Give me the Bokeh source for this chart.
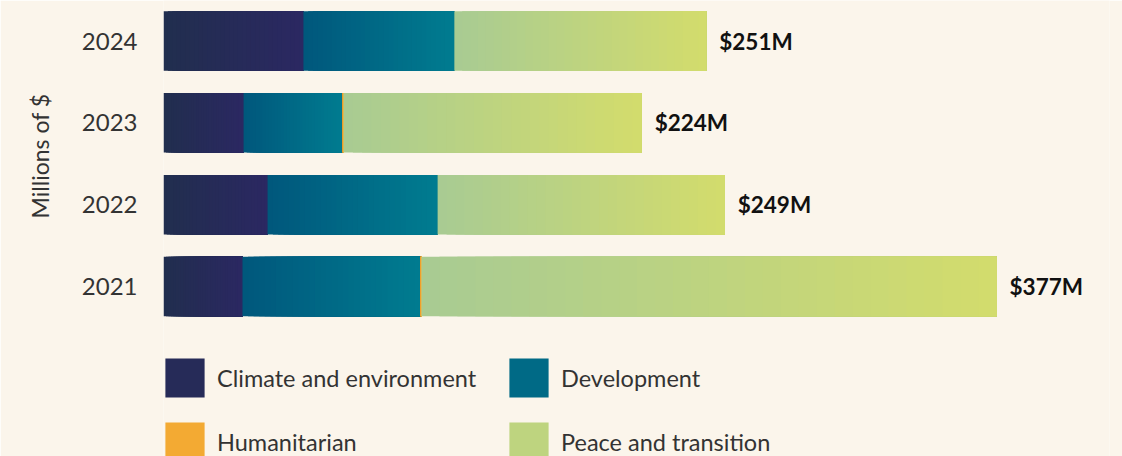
import numpy as np
from bokeh.plotting import figure
from bokeh.models import Range1d, FixedTicker, Legend, LegendItem, Title, ColumnDataSource
from bokeh.embed import file_html
from bokeh.resources import INLINE
from bokeh.core.properties import value

# ---------------- data ----------------
years = [2021, 2022, 2023, 2024]
year_labels = ["2021", "2022", "2023", "2024"]
climate = [35.9, 47.3, 36.4, 63.6]
development = [80.9, 77.3, 45.0, 68.6]
humanitarian = [0.45, 0.0, 0.45, 0.0]
peace = [261.4, 130.5, 135.5, 114.5]
total_labels = ["$377M", "$249M", "$224M", "$251M"]
categories = ["Climate and environment", "Development", "Humanitarian", "Peace and transition"]

# ---------------- style ----------------
BG = "#fbf5eb"
FONT = "Lato"
gradients = [
    ("#212e4e", "#2b2862"),
    ("#00577c", "#007c90"),
    ("#ef9527", "#f7bd3f"),
    ("#a8cb93", "#d3dc6c"),
]
N = 32
BAR_H = 0.727


def hex2rgb(h):
    h = h.lstrip("#")
    return np.array([int(h[i:i + 2], 16) for i in (0, 2, 4)], dtype=float)


def rgb2hex(c):
    return "#%02x%02x%02x" % tuple(int(round(v)) for v in c)


p = figure(width=1122, height=456, output_backend="svg", toolbar_location=None,
           x_range=Range1d(0, 430), y_range=Range1d(2018.9225, 2024.495),
           x_axis_location=None, min_border_left=163, min_border_right=13,
           min_border_top=0, min_border_bottom=0)
p.background_fill_color = BG
p.border_fill_color = BG
p.outline_line_color = None
p.grid.visible = False

series = [climate, development, humanitarian, peace]
lefts = np.zeros(len(years))
renderers = []
for vals, (c0, c1) in zip(series, gradients):
    vals = np.array(vals, dtype=float)
    a, b = hex2rgb(c0), hex2rgb(c1)
    L, R, B, T, C = [], [], [], [], []
    for yr, l, w in zip(years, lefts, vals):
        if w <= 0:
            continue
        # gradient: successive strips painted over each other, left to right
        for i in range(N):
            t = (i + 0.5) / N
            L.append(l + w * i / N)
            R.append(l + w)
            B.append(yr - BAR_H / 2)
            T.append(yr + BAR_H / 2)
            C.append(rgb2hex(a + (b - a) * t))
    src = ColumnDataSource(dict(left=L, right=R, bottom=B, top=T, color=C))
    r = p.quad(left="left", right="right", bottom="bottom", top="top", source=src,
               fill_color="color", line_color=None)
    renderers.append(r)
    lefts = lefts + vals

totals = lefts
lab_src = ColumnDataSource(dict(x=list(totals), y=years, text=total_labels))
p.text(x="x", y="y", text="text", source=lab_src, x_offset=13,
       text_baseline="middle", text_align="left", text_font=value(FONT),
       text_font_style="bold", text_font_size="22.5px", text_color="#111111")

# y axis
ax = p.yaxis[0]
ax.ticker = FixedTicker(ticks=years)
ax.major_label_overrides = {y: s for y, s in zip(years, year_labels)}
ax.axis_line_color = None
ax.major_tick_line_color = None
ax.minor_tick_line_color = None
ax.major_tick_out = 0
ax.minor_tick_out = 0
ax.major_label_standoff = 26
ax.major_label_text_font = FONT
ax.major_label_text_font_size = "24px"
ax.major_label_text_color = "#333333"

p.add_layout(Title(text="Millions of $", align="right", offset=93,
                   vertical_align="top", standoff=46,
                   text_font=FONT, text_font_size="23px", text_font_style="normal",
                   text_color="#333333"), "left")

legend = Legend(items=[LegendItem(label=c, renderers=[r], index=N // 2)
                       for c, r in zip(categories, renderers)],
                location=(-3, -10), orientation="horizontal", ncols=2,
                glyph_width=49, glyph_height=49, label_height=49, label_width=272,
                spacing=15, padding=0, margin=0, label_standoff=8,
                label_text_font=FONT, label_text_font_size="23.5px",
                label_text_color="#333333", border_line_color=None,
                background_fill_alpha=0)
p.add_layout(legend)

html = file_html(p, INLINE)
html = html.replace("<body>", '<body style="background-color:%s;">' % BG, 1)
open("out.html", "w").write(html)
